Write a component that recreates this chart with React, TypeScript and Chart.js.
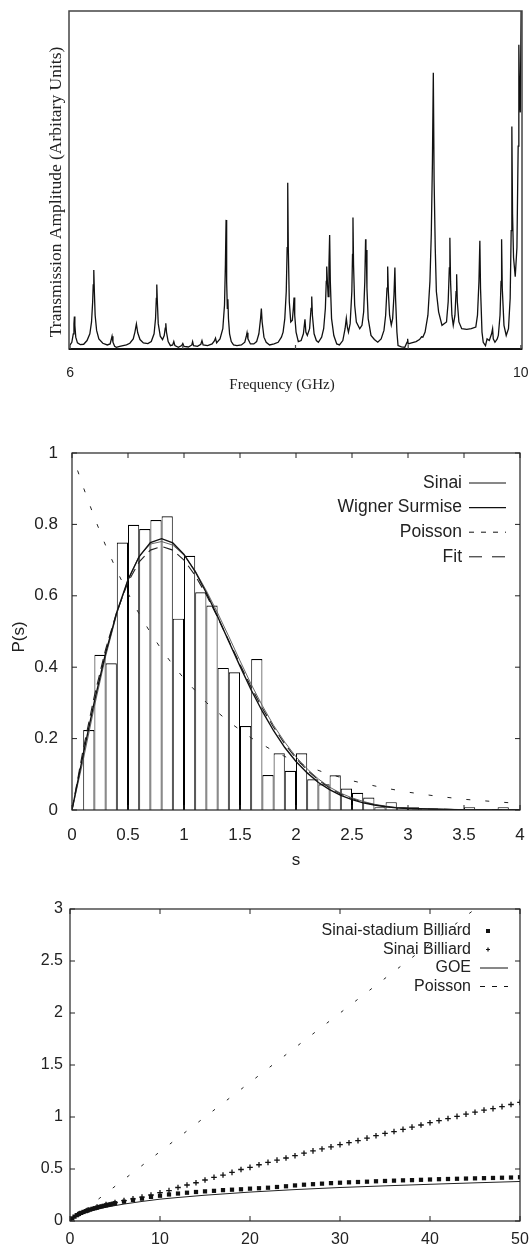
import React, { useEffect, useRef } from "react";
import { Chart, registerables } from "chart.js";
Chart.register(...registerables);

// ---------------- Panel 1: transmission spectrum ----------------
const spectrum6: [number, number][] = [
  [6.000, 0.012], [6.015, 0.020], [6.028, 0.045], [6.034, 0.075], [6.038, 0.096], [6.042, 0.070], [6.050, 0.035],
  [6.065, 0.018], [6.090, 0.013], [6.120, 0.014], [6.150, 0.025], [6.175, 0.045], [6.190, 0.080], [6.200, 0.140],
  [6.205, 0.190], [6.210, 0.234], [6.215, 0.170], [6.222, 0.100], [6.235, 0.055], [6.255, 0.030], [6.290, 0.017],
  [6.330, 0.012], [6.355, 0.015], [6.365, 0.028], [6.372, 0.038], [6.380, 0.020], [6.395, 0.008], [6.410, 0.005],
  [6.440, 0.008], [6.470, 0.010], [6.500, 0.012], [6.530, 0.017], [6.560, 0.030], [6.575, 0.050], [6.588, 0.074],
  [6.600, 0.048], [6.620, 0.028], [6.650, 0.018], [6.690, 0.016], [6.720, 0.022], [6.745, 0.045], [6.758, 0.090],
  [6.765, 0.150], [6.769, 0.191], [6.774, 0.140], [6.782, 0.075], [6.800, 0.038], [6.820, 0.028], [6.835, 0.040],
  [6.844, 0.062], [6.849, 0.076], [6.855, 0.050], [6.870, 0.022], [6.890, 0.010], [6.910, 0.012], [6.920, 0.022],
  [6.930, 0.010], [6.960, 0.005], [6.990, 0.010],
];
const spectrum7: [number, number][] = [
  [7.000, 0.016], [7.010, 0.008], [7.050, 0.006], [7.080, 0.012], [7.087, 0.022], [7.095, 0.010], [7.130, 0.008],
  [7.160, 0.014], [7.170, 0.025], [7.180, 0.012], [7.220, 0.010], [7.260, 0.015], [7.280, 0.024], [7.290, 0.032],
  [7.300, 0.018], [7.330, 0.030], [7.355, 0.060], [7.370, 0.130], [7.378, 0.250], [7.384, 0.382], [7.389, 0.200],
  [7.395, 0.120], [7.400, 0.147], [7.405, 0.090], [7.415, 0.045], [7.430, 0.022], [7.450, 0.012], [7.480, 0.010],
  [7.520, 0.012], [7.550, 0.020], [7.565, 0.040], [7.570, 0.048], [7.578, 0.030], [7.600, 0.015], [7.630, 0.015],
  [7.655, 0.022], [7.675, 0.045], [7.690, 0.090], [7.697, 0.120], [7.704, 0.080], [7.720, 0.035], [7.740, 0.020],
  [7.770, 0.012], [7.810, 0.015], [7.846, 0.020], [7.875, 0.035], [7.890, 0.050], [7.905, 0.090], [7.918, 0.170],
  [7.926, 0.300], [7.931, 0.492], [7.936, 0.300], [7.945, 0.140], [7.958, 0.080], [7.972, 0.085], [7.982, 0.125],
  [7.987, 0.152], [7.993, 0.100],
];
const spectrum8: [number, number][] = [
  [8.005, 0.050], [8.025, 0.022], [8.050, 0.025], [8.070, 0.045], [8.084, 0.088], [8.092, 0.050], [8.105, 0.040],
  [8.125, 0.060], [8.138, 0.120], [8.144, 0.155], [8.150, 0.100], [8.165, 0.045], [8.185, 0.025], [8.203, 0.020],
  [8.232, 0.035], [8.250, 0.060], [8.265, 0.120], [8.273, 0.200], [8.277, 0.244], [8.283, 0.200], [8.290, 0.155],
  [8.297, 0.250], [8.303, 0.337], [8.309, 0.200], [8.320, 0.090], [8.340, 0.040], [8.366, 0.015], [8.390, 0.012],
  [8.420, 0.025], [8.440, 0.060], [8.451, 0.091], [8.460, 0.065], [8.470, 0.050], [8.485, 0.075], [8.500, 0.170],
  [8.506, 0.280], [8.510, 0.389], [8.515, 0.250], [8.525, 0.130], [8.540, 0.080], [8.570, 0.060], [8.590, 0.070],
  [8.605, 0.110], [8.615, 0.200], [8.622, 0.325], [8.625, 0.280], [8.628, 0.293], [8.634, 0.180], [8.645, 0.090],
  [8.670, 0.040], [8.700, 0.028], [8.730, 0.020], [8.760, 0.030], [8.785, 0.055], [8.800, 0.100], [8.812, 0.180],
  [8.818, 0.244], [8.824, 0.170], [8.835, 0.100], [8.850, 0.071], [8.862, 0.090], [8.874, 0.160], [8.882, 0.241],
  [8.888, 0.150], [8.900, 0.050], [8.910, 0.010], [8.940, 0.006], [8.970, 0.005], [8.990, 0.020], [8.995, 0.030],
];
const spectrum9: [number, number][] = [
  [9.000, 0.015], [9.030, 0.018], [9.070, 0.022], [9.100, 0.028], [9.119, 0.036], [9.130, 0.035], [9.150, 0.050],
  [9.175, 0.100], [9.193, 0.200], [9.205, 0.340], [9.215, 0.550], [9.223, 0.817], [9.230, 0.500], [9.240, 0.300],
  [9.250, 0.170], [9.270, 0.110], [9.300, 0.070], [9.340, 0.080], [9.355, 0.140], [9.365, 0.240], [9.370, 0.329],
  [9.376, 0.200], [9.388, 0.100], [9.400, 0.070], [9.415, 0.100], [9.425, 0.170], [9.430, 0.221], [9.436, 0.140],
  [9.450, 0.080], [9.475, 0.060], [9.520, 0.058], [9.560, 0.060], [9.600, 0.065], [9.615, 0.100], [9.628, 0.200],
  [9.636, 0.320], [9.642, 0.180], [9.655, 0.050], [9.666, 0.020], [9.686, 0.010], [9.700, 0.030], [9.720, 0.025],
  [9.740, 0.045], [9.749, 0.060], [9.755, 0.030], [9.770, 0.020], [9.790, 0.030], [9.800, 0.040], [9.815, 0.100],
  [9.824, 0.200], [9.829, 0.325], [9.835, 0.180], [9.850, 0.070], [9.870, 0.040], [9.890, 0.060], [9.905, 0.150],
  [9.914, 0.350], [9.920, 0.658], [9.926, 0.400], [9.935, 0.270], [9.950, 0.214], [9.965, 0.300], [9.976, 0.600],
  [9.982, 0.900], [9.988, 0.750], [9.995, 0.700], [10.002, 1.000], [10.010, 1.000],
];
const freqTicks = [6, 7, 8, 9, 10];
const freqLabelled = [6, 10];

// ---------------- Panel 2: spacing distribution ----------------
const binCenters = [0.15, 0.25, 0.35, 0.45, 0.55, 0.65, 0.75, 0.85, 0.95, 1.05, 1.15, 1.25, 1.35, 1.45, 1.55, 1.65,
  1.75, 1.85, 1.95, 2.05, 2.15, 2.25, 2.35, 2.45, 2.55, 2.65, 2.75, 2.85, 2.95, 3.05, 3.55, 3.85];
const binHeights = [0.224, 0.435, 0.411, 0.749, 0.799, 0.787, 0.812, 0.823, 0.536, 0.712, 0.610, 0.573, 0.398, 0.386,
  0.235, 0.423, 0.098, 0.159, 0.110, 0.159, 0.086, 0.072, 0.097, 0.060, 0.048, 0.035, 0.008, 0.022, 0.008, 0.008,
  0.008, 0.008];
const sGrid = [0, 0.1, 0.2, 0.3, 0.4, 0.5, 0.6, 0.7, 0.8, 0.9, 1.0, 1.1, 1.2, 1.3, 1.4, 1.5, 1.6, 1.7, 1.8, 1.9, 2.0,
  2.1, 2.2, 2.3, 2.4, 2.5, 2.6, 2.7, 2.8, 2.9, 3.0, 3.5, 4.0];
const sinaiP = [0, 0.14, 0.29, 0.43, 0.55, 0.645, 0.712, 0.745, 0.752, 0.742, 0.714, 0.670, 0.614, 0.552, 0.486, 0.418,
  0.352, 0.292, 0.237, 0.190, 0.149, 0.115, 0.087, 0.064, 0.047, 0.034, 0.024, 0.016, 0.011, 0.007, 0.005, 0.001, 0.0001];
const wignerP = [0, 0.156, 0.304, 0.439, 0.554, 0.645, 0.710, 0.749, 0.760, 0.748, 0.716, 0.668, 0.608, 0.542, 0.472,
  0.403, 0.336, 0.276, 0.222, 0.175, 0.136, 0.104, 0.077, 0.057, 0.041, 0.029, 0.020, 0.014, 0.009, 0.006, 0.004,
  0.0003, 0.00002];
const fitP = [0, 0.17, 0.32, 0.45, 0.555, 0.638, 0.695, 0.728, 0.738, 0.728, 0.700, 0.657, 0.602, 0.540, 0.474, 0.408,
  0.344, 0.285, 0.232, 0.185, 0.145, 0.112, 0.084, 0.062, 0.045, 0.032, 0.022, 0.015, 0.010, 0.007, 0.004, 0.001, 0.0001];
const poissonS = [0.05, 0.1, 0.2, 0.3, 0.4, 0.5, 0.6, 0.7, 0.8, 0.9, 1.0, 1.2, 1.4, 1.6, 1.8, 2.0, 2.25, 2.5, 2.75, 3.0,
  3.25, 3.5, 3.75, 4.0];
const poissonP = [0.951, 0.905, 0.819, 0.741, 0.670, 0.607, 0.549, 0.497, 0.449, 0.407, 0.368, 0.301, 0.247, 0.202,
  0.165, 0.135, 0.105, 0.082, 0.064, 0.050, 0.039, 0.030, 0.024, 0.018];
const sTicks = [0, 0.5, 1, 1.5, 2, 2.5, 3, 3.5, 4];
const pTicks = [0, 0.2, 0.4, 0.6, 0.8, 1];

// ---------------- Panel 3: spectral rigidity ----------------
const stadiumL = [0, 0.25, 0.5, 0.75, 1, 1.25, 1.5, 1.75, 2, 2.25, 2.5, 2.75, 3, 3.25, 3.5, 3.75, 4, 4.25, 4.5, 4.75, 5,
  6, 7, 8, 9, 10, 11, 12, 13, 14, 15, 16, 17, 18, 19, 20, 21, 22, 23, 24, 25, 26, 27, 28, 29, 30, 31, 32, 33, 34, 35,
  36, 37, 38, 39, 40, 41, 42, 43, 44, 45, 46, 47, 48, 49, 50];
const stadiumD = [0, 0.025, 0.042, 0.056, 0.068, 0.078, 0.087, 0.095, 0.103, 0.110, 0.117, 0.123, 0.129, 0.135, 0.141,
  0.146, 0.151, 0.156, 0.161, 0.166, 0.171,
  0.186, 0.202, 0.215, 0.232, 0.243, 0.255, 0.264, 0.272, 0.279, 0.285, 0.290, 0.297, 0.301, 0.305, 0.311, 0.315,
  0.320, 0.327, 0.334, 0.342, 0.349, 0.354, 0.359, 0.364, 0.368, 0.372, 0.375, 0.378, 0.382, 0.385, 0.388, 0.391,
  0.393, 0.396, 0.399, 0.402, 0.404, 0.406, 0.408, 0.410, 0.412, 0.414, 0.416, 0.418, 0.421];
const sinaiL = [1, 2, 3, 4, 5, 6, 7, 8, 9, 10, 11, 12, 13, 14, 15, 16, 17, 18, 19, 20, 21, 22, 23, 24, 25, 26, 27, 28,
  29, 30, 31, 32, 33, 34, 35, 36, 37, 38, 39, 40, 41, 42, 43, 44, 45, 46, 47, 48, 49, 50];
const sinaiD = [0.070, 0.105, 0.133, 0.158, 0.178, 0.196, 0.213, 0.230, 0.250, 0.272, 0.293, 0.322, 0.346, 0.368,
  0.394, 0.420, 0.442, 0.468, 0.495, 0.516, 0.541, 0.564, 0.585, 0.606, 0.628, 0.652, 0.674, 0.693, 0.713, 0.734,
  0.753, 0.773, 0.797, 0.820, 0.842, 0.860, 0.881, 0.903, 0.923, 0.945, 0.965, 0.985, 1.006, 1.028, 1.046, 1.066,
  1.081, 1.100, 1.120, 1.141];
const goeL = [0, 0.5, 1, 1.5, 2, 3, 4, 5, 6, 8, 10, 12, 15, 20, 25, 30, 35, 40, 45, 50];
const goeD = [0, 0.035, 0.058, 0.075, 0.090, 0.113, 0.132, 0.148, 0.163, 0.188, 0.210, 0.226, 0.248, 0.278, 0.302,
  0.322, 0.338, 0.353, 0.367, 0.380];
const poissonL = [0, 50];
const poissonD = [0, 3.333];
const lTicks = [0, 10, 20, 30, 40, 50];
const dTicks = [0, 0.5, 1, 1.5, 2, 2.5, 3];

// ---------------- helpers ----------------
const SANS = '"Liberation Sans", Arial, sans-serif';
const SERIF = '"Liberation Serif", "Times New Roman", serif';
const pts = (xs: number[], ys: number[]) => xs.map((x, i) => ({ x, y: ys[i] }));
const pairs = (arr: [number, number][]) => arr.map(([x, y]) => ({ x, y }));
const fixX = (h: number) => (s: any) => { s.height = h; s.paddingLeft = 0; s.paddingRight = 0; };
const fixY = (w: number) => (s: any) => { s.width = w; s.paddingTop = 0; s.paddingBottom = 0; };
const useTicks = (vals: number[]) => (s: any) => { s.ticks = vals.map((v) => ({ value: v })); };

const decor = {
  id: "decor",
  afterDatasetsDraw(chart: any, _args: any, o: any) {
    const { ctx, chartArea: a, scales } = chart;
    ctx.save();
    ctx.setLineDash([]);
    ctx.strokeStyle = o.frameColor;
    ctx.lineWidth = o.frameWidth;
    ctx.strokeRect(a.left, a.top, a.right - a.left, a.bottom - a.top);
    if (o.axisWidth) {
      ctx.lineWidth = o.axisWidth;
      ctx.strokeStyle = "#111";
      ctx.beginPath();
      ctx.moveTo(a.left, a.bottom);
      ctx.lineTo(a.right, a.bottom);
      ctx.stroke();
    }
    ctx.strokeStyle = o.frameColor;
    ctx.lineWidth = o.tickWidth;
    const tl = o.tickLen;
    const sides: string[] = o.tickSides;
    ctx.beginPath();
    for (const t of scales.x.ticks) {
      const p = scales.x.getPixelForValue(t.value);
      if (sides.includes("bottom")) { ctx.moveTo(p, a.bottom); ctx.lineTo(p, a.bottom - tl); }
      if (sides.includes("top")) { ctx.moveTo(p, a.top); ctx.lineTo(p, a.top + tl); }
    }
    if (sides.includes("left") || sides.includes("right")) {
      for (const t of scales.y.ticks) {
        const p = scales.y.getPixelForValue(t.value);
        if (sides.includes("left")) { ctx.moveTo(a.left, p); ctx.lineTo(a.left + tl, p); }
        if (sides.includes("right")) { ctx.moveTo(a.right, p); ctx.lineTo(a.right - tl, p); }
      }
    }
    ctx.stroke();

    for (const t of o.texts || []) {
      ctx.save();
      ctx.font = t.font;
      ctx.fillStyle = "#222";
      ctx.textAlign = "center";
      ctx.textBaseline = "middle";
      ctx.translate(t.x, t.y);
      if (t.rotate) ctx.rotate(t.rotate);
      ctx.fillText(t.text, 0, 0);
      ctx.restore();
    }

    const L = o.legend;
    if (L) {
      L.rows.forEach((r: any, i: number) => {
        const y = L.y + i * L.dy;
        const ds = chart.data.datasets[r.dataset];
        ctx.font = L.font;
        ctx.fillStyle = "#222";
        ctx.textAlign = "right";
        ctx.textBaseline = "middle";
        ctx.fillText(ds.label, L.textX, y);
        ctx.strokeStyle = "#111";
        ctx.fillStyle = "#111";
        if (r.kind === "line") {
          ctx.lineWidth = r.width;
          ctx.setLineDash(r.dash || []);
          ctx.beginPath();
          ctx.moveTo(L.x1, y);
          ctx.lineTo(L.x2, y);
          ctx.stroke();
          ctx.setLineDash([]);
        } else if (r.kind === "square") {
          ctx.fillRect(L.mx - 2, y - 2, 4, 4);
        } else if (r.kind === "cross") {
          ctx.lineWidth = 1.2;
          ctx.beginPath();
          ctx.moveTo(L.mx - 2, y); ctx.lineTo(L.mx + 2, y);
          ctx.moveTo(L.mx, y - 2); ctx.lineTo(L.mx, y + 2);
          ctx.stroke();
        }
      });
    }
    ctx.restore();
  },
};

const baseOptions = {
  responsive: false,
  animation: false as const,
  events: [] as any[],
};

function config1(): any {
  const data = [...pairs(spectrum6), ...pairs(spectrum7), ...pairs(spectrum8), ...pairs(spectrum9)];
  return {
    type: "line",
    data: {
      datasets: [{ label: "Transmission", data, borderColor: "#111", borderWidth: 1.3, pointRadius: 0, tension: 0, fill: false }],
    },
    plugins: [decor],
    options: {
      ...baseOptions,
      layout: { padding: { top: 11, right: 8, left: 0, bottom: 0 } },
      scales: {
        x: {
          type: "linear", min: 5.99, max: 10.01,
          grid: { display: false, drawTicks: false }, border: { display: false },
          afterBuildTicks: useTicks(freqTicks), afterFit: fixX(51),
          ticks: {
            padding: 16, autoSkip: false, maxRotation: 0, color: "#222",
            font: { family: SANS, size: 14 },
            callback: (v: number) => (freqLabelled.includes(v) ? String(v) : ""),
          },
        },
        y: {
          type: "linear", min: 0, max: 1,
          grid: { display: false, drawTicks: false }, border: { display: false },
          ticks: { display: false }, afterFit: fixY(69),
        },
      },
      plugins: {
        legend: { display: false }, tooltip: { enabled: false },
        decor: {
          frameColor: "#444", frameWidth: 1.5, axisWidth: 2, tickWidth: 1.2, tickLen: 4, tickSides: ["bottom"],
          texts: [
            { text: "Transmission Amplitude (Arbitary Units)", x: 56, y: 192, rotate: -Math.PI / 2, font: `17.5px ${SERIF}` },
            { text: "Frequency (GHz)", x: 282, y: 385, font: `15px ${SERIF}` },
          ],
        },
      },
    },
  };
}

function config2(): any {
  return {
    type: "bar",
    data: {
      datasets: [
        { type: "line", label: "Sinai", data: pts(sGrid, sinaiP), borderColor: "#555", borderWidth: 0.9, pointRadius: 0, order: 1 },
        { type: "line", label: "Wigner Surmise", data: pts(sGrid, wignerP), borderColor: "#111", borderWidth: 1.4, pointRadius: 0, order: 0 },
        { type: "line", label: "Poisson", data: pts(poissonS, poissonP), borderColor: "#222", borderWidth: 1, borderDash: [4, 15], pointRadius: 0, order: 2 },
        { type: "line", label: "Fit", data: pts(sGrid, fitP), borderColor: "#222", borderWidth: 1.1, borderDash: [10, 6], pointRadius: 0, order: 3 },
        {
          type: "bar", label: "histogram", data: pts(binCenters, binHeights),
          backgroundColor: "#fff", borderColor: "#000",
          borderWidth: { top: 1.2, left: 1, right: 1, bottom: 0 }, borderSkipped: false,
          barPercentage: 1, categoryPercentage: 1, inflateAmount: 0, order: 10,
        },
      ],
    },
    plugins: [decor],
    options: {
      ...baseOptions,
      layout: { padding: { top: 33, right: 10, left: 0, bottom: 0 } },
      scales: {
        x: {
          type: "linear", min: 0, max: 4, offset: false,
          grid: { display: false, drawTicks: false, offset: false }, border: { display: false },
          afterBuildTicks: useTicks(sTicks), afterFit: fixX(60),
          ticks: { padding: 15, autoSkip: false, maxRotation: 0, color: "#222", font: { family: SANS, size: 17 }, callback: (v: number) => String(v) },
        },
        y: {
          type: "linear", min: 0, max: 1,
          grid: { display: false, drawTicks: false }, border: { display: false },
          afterBuildTicks: useTicks(pTicks), afterFit: fixY(72),
          ticks: { padding: 14, color: "#222", font: { family: SANS, size: 17 }, callback: (v: number) => String(v) },
        },
      },
      plugins: {
        legend: { display: false }, tooltip: { enabled: false },
        decor: {
          frameColor: "#222", frameWidth: 1.2, tickWidth: 1, tickLen: 5, tickSides: ["bottom", "top", "left", "right"],
          texts: [
            { text: "P(s)", x: 19, y: 217, rotate: -Math.PI / 2, font: `17px ${SANS}` },
            { text: "s", x: 296, y: 440, font: `17px ${SANS}` },
          ],
          legend: {
            font: `17.5px ${SANS}`, textX: 462, x1: 469, x2: 506, y: 63, dy: 24.6,
            rows: [
              { dataset: 0, kind: "line", width: 1 },
              { dataset: 1, kind: "line", width: 1.3 },
              { dataset: 2, kind: "line", width: 1, dash: [5, 7] },
              { dataset: 3, kind: "line", width: 1, dash: [13, 10] },
            ],
          },
        },
      },
    },
  };
}

function config3(): any {
  return {
    type: "scatter",
    data: {
      datasets: [
        { label: "Sinai-stadium Billiard", data: pts(stadiumL, stadiumD), pointStyle: "rect", pointRadius: 3, backgroundColor: "#111", borderWidth: 0, order: 0 },
        { label: "Sinai Billiard", data: pts(sinaiL, sinaiD), pointStyle: "cross", pointRadius: 2.8, borderColor: "#111", borderWidth: 1.3, order: 1 },
        { label: "GOE", data: pts(goeL, goeD), showLine: true, pointRadius: 0, borderColor: "#222", borderWidth: 1, order: 2 },
        { label: "Poisson", data: pts(poissonL, poissonD), showLine: true, pointRadius: 0, borderColor: "#222", borderWidth: 1, borderDash: [3, 15], order: 3 },
      ],
    },
    plugins: [decor],
    options: {
      ...baseOptions,
      layout: { padding: { top: 39, right: 10, left: 0, bottom: 0 } },
      scales: {
        x: {
          type: "linear", min: 0, max: 50,
          grid: { display: false, drawTicks: false }, border: { display: false },
          afterBuildTicks: useTicks(lTicks), afterFit: fixX(28),
          ticks: { padding: 9, autoSkip: false, maxRotation: 0, color: "#222", font: { family: SANS, size: 16 }, callback: (v: number) => String(v) },
        },
        y: {
          type: "linear", min: 0, max: 3,
          grid: { display: false, drawTicks: false }, border: { display: false },
          afterBuildTicks: useTicks(dTicks), afterFit: fixY(70),
          ticks: { padding: 7, color: "#222", font: { family: SANS, size: 16 }, callback: (v: number) => String(v) },
        },
      },
      plugins: {
        legend: { display: false }, tooltip: { enabled: false },
        decor: {
          frameColor: "#222", frameWidth: 1.2, tickWidth: 1, tickLen: 5, tickSides: ["bottom", "top", "left", "right"],
          legend: {
            font: `16px ${SANS}`, textX: 471, x1: 480, x2: 508, mx: 488, y: 61, dy: 18.5,
            rows: [
              { dataset: 0, kind: "square" },
              { dataset: 1, kind: "cross" },
              { dataset: 2, kind: "line", width: 1 },
              { dataset: 3, kind: "line", width: 1, dash: [5, 7] },
            ],
          },
        },
      },
    },
  };
}

export default function App() {
  const r1 = useRef<HTMLCanvasElement>(null);
  const r2 = useRef<HTMLCanvasElement>(null);
  const r3 = useRef<HTMLCanvasElement>(null);
  useEffect(() => {
    const charts = [
      new Chart(r1.current as HTMLCanvasElement, config1()),
      new Chart(r2.current as HTMLCanvasElement, config2()),
      new Chart(r3.current as HTMLCanvasElement, config3()),
    ];
    return () => charts.forEach((c) => c.destroy());
  }, []);
  const cv = (top: number, h: number): React.CSSProperties => ({ position: "absolute", left: 0, top, width: 530, height: h });
  return (
    <div style={{ position: "absolute", left: 0, top: 0, width: 530, height: 1249, background: "#fff", overflow: "hidden" }}>
      <canvas ref={r1} width={530} height={400} style={cv(0, 400)} />
      <canvas ref={r2} width={530} height={450} style={cv(420, 450)} />
      <canvas ref={r3} width={530} height={379} style={cv(870, 379)} />
    </div>
  );
}
